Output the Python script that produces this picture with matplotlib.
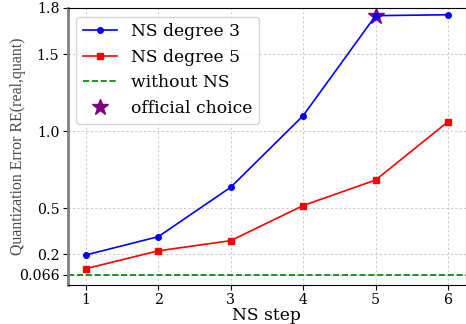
import matplotlib
matplotlib.use("Agg")
import matplotlib.pyplot as plt

steps = [1, 2, 3, 4, 5, 6]
deg3 = [0.195, 0.314, 0.635, 1.10, 1.75, 1.756]
deg5 = [0.106, 0.222, 0.288, 0.516, 0.682, 1.061]
baseline = 0.066
choice_step, choice_err = 5, 1.75
yticks = [0.066, 0.2, 0.5, 1.0, 1.5, 1.8]
ytick_labels = ["0.066", "0.2", "0.5", "1.0", "1.5", "1.8"]

plt.rcParams.update({"font.family": "DejaVu Serif"})

fig = plt.figure(figsize=(4.66, 3.24), dpi=100)
ax = fig.add_axes([0.1453, 0.1204, 0.855, 0.855])

ax.plot(choice_step, choice_err, linestyle="none", marker="*", ms=12,
        color="purple", label="official choice", zorder=2)
ax.plot(steps, deg3, color="blue", marker="o", ms=4, lw=1.2, label="NS degree 3", zorder=3)
ax.plot(steps, deg5, color="red", marker="s", ms=4, lw=1.2, label="NS degree 5", zorder=3)
ax.axhline(baseline, color="green", ls="--", lw=1.2, label="without NS")

ax.set_xlim(0.75, 6.25)
ax.set_ylim(0, 1.8)
ax.set_xticks(steps)
ax.set_yticks(yticks)
ax.set_yticklabels(ytick_labels)
ax.tick_params(labelsize=10.2, length=3.5, pad=2.5)
ax.grid(True, color="#cccccc", ls=(0, (2, 2)), lw=0.8)

ax.spines["left"].set_color("gray")
ax.spines["left"].set_linewidth(2)

ax.set_xlabel("NS step", fontsize=12.3, labelpad=0)
ax.set_ylabel("Quantization Error RE(real,quant)", fontsize=11.4,
              family="Liberation Serif", color="#4a4a4a")
ax.yaxis.set_label_coords(-0.105, 0.5)

h, l = ax.get_legend_handles_labels()
order = [1, 2, 3, 0]
ax.legend([h[i] for i in order], [l[i] for i in order], loc="upper left",
          fontsize=12.3, framealpha=0.8)

fig.savefig("out.png", dpi=100)
